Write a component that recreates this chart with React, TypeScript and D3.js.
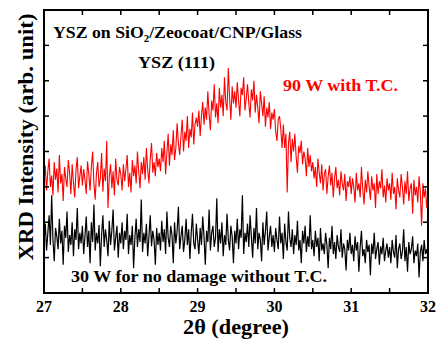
import React from 'react'
import * as d3 from 'd3'

// 2theta range of the scan, points are evenly spaced over it
const thetaStart = 27
const thetaEnd = 32

// 90 W with T.C. (arb. counts)
const redCounts = [
  158, 180, 145, 172, 190, 150, 166, 138, 185, 160, 176, 142, 195, 155, 168, 130, 178, 162, 150, 188, 170, 140, 182, 157, 135, 174, 192, 148, 165, 180,
  152, 175, 160, 140, 186, 168, 145, 178, 200, 155, 132, 170, 185, 150, 162, 198, 143, 176, 158, 215, 120, 165, 182, 148, 172, 138, 190, 160, 152, 178,
  168, 145, 182, 158, 175, 195, 150, 170, 142, 188, 165, 180, 155, 200, 172, 148, 185, 168, 192, 160, 205, 175, 155, 190, 212, 170, 185, 165, 198, 178,
  190, 172, 205, 185, 215, 168, 198, 225, 180, 210, 195, 230, 188, 205, 240, 212, 195, 222, 245, 200, 228, 215, 250, 205, 232, 220, 255, 210, 238, 248,
  235, 258, 222, 250, 270, 238, 262, 245, 285, 252, 230, 272, 258, 295, 248, 268, 240, 290, 262, 280, 250, 305, 270, 258, 318, 275, 245, 292, 268, 285,
  262, 298, 272, 250, 290, 280, 305, 258, 275, 295, 268, 248, 288, 272, 300, 255, 280, 262, 240, 285, 268, 250, 278, 235, 262, 248, 270, 232, 255, 245,
  260, 228, 215, 245, 250, 232, 205, 238, 205, 225, 142, 212, 228, 185, 218, 200, 225, 192, 170, 208, 198, 215, 182, 200, 190, 165, 205, 178, 195, 172,
  185, 162, 178, 150, 190, 170, 155, 182, 145, 168, 175, 140, 165, 180, 152, 170, 135, 162, 178, 148, 160, 138, 172, 155, 145, 168, 130, 158, 150, 165,
  140, 162, 150, 128, 170, 145, 155, 135, 178, 148, 125, 160, 142, 172, 150, 132, 165, 145, 155, 120, 168, 140, 158, 148, 175, 135, 152, 128, 162, 145,
  155, 132, 170, 140, 150, 118, 162, 145, 135, 168, 150, 125, 158, 140, 172, 130, 148, 155, 112, 160, 138, 150, 128, 165, 142, 95, 155, 135, 148, 120,
  140
]

// 30 W for no damage without T.C.
const blackCounts = [
  72, 98, 60, 85, 110, 68, 138, 75, 45, 92, 80, 62, 105, 70, 88, 40, 95, 78, 115, 58, 82, 68, 100, 52, 90, 75, 120, 62, 85, 70,
  95, 55, 80, 108, 65, 88, 42, 100, 72, 125, 60, 85, 70, 96, 38, 82, 110, 65, 90, 75, 52, 102, 68, 88, 118, 60, 78, 95, 50, 85,
  70, 100, 62, 88, 75, 112, 55, 82, 68, 95, 35, 78, 105, 65, 90, 72, 132, 58, 85, 70, 98, 52, 80, 110, 66, 88, 75, 40, 92, 68,
  85, 60, 102, 72, 90, 55, 115, 78, 65, 95, 82, 42, 100, 70, 88, 122, 62, 80, 95, 58, 75, 105, 68, 90, 48, 85, 112, 70, 62, 98,
  75, 55, 92, 68, 108, 80, 40, 88, 72, 118, 60, 85, 95, 65, 78, 134, 58, 90, 70, 100, 52, 82, 68, 112, 75, 60, 95, 80, 42, 88,
  70, 105, 62, 90, 78, 138, 55, 85, 72, 98, 65, 110, 80, 50, 92, 70, 120, 62, 85, 75, 45, 100, 68, 88, 115, 60, 80, 95, 65, 82,
  58, 92, 75, 62, 108, 70, 85, 48, 98, 72, 60, 115, 78, 65, 90, 55, 82, 68, 102, 60, 75, 42, 88, 70, 95, 58, 80, 65, 110, 62,
  75, 52, 88, 65, 78, 45, 92, 60, 70, 55, 85, 68, 35, 78, 62, 95, 55, 72, 48, 82, 65, 58, 90, 50, 70, 62, 32, 75, 60, 85,
  55, 68, 45, 80, 60, 72, 30, 65, 88, 52, 62, 42, 75, 58, 68, 25, 70, 55, 85, 48, 62, 72, 40, 66, 55, 78, 45, 60, 70, 50,
  65, 42, 75, 58, 50, 82, 35, 62, 70, 48, 58, 90, 45, 65, 30, 72, 55, 62, 80, 42, 60, 52, 70, 22, 58, 68, 45, 75, 55, 62,
  50
]

const xTicks = [27, 28, 29, 30, 31, 32]
const xMinorTicks = [27.5, 28.5, 29.5, 30.5, 31.5]
const yTicks = [50, 100, 150, 200, 250, 300, 350]

const left = 44
const right = 428
const top = 10
const bottom = 293
const font = '"Liberation Serif", "Times New Roman", serif'

function App() {
  const x = d3.scaleLinear().domain([thetaStart, thetaEnd]).range([left, right])
  const y = d3.scaleLinear().domain([0, 400]).range([bottom, top])

  const toPoints = (counts: number[]) =>
    counts.map((c, i) => [thetaStart + (i * (thetaEnd - thetaStart)) / (counts.length - 1), c] as [number, number])

  const line = d3
    .line<[number, number]>()
    .x(d => x(d[0]))
    .y(d => y(d[1]))

  const tick = 5

  return (
    <svg width={437} height={340} style={{position: 'absolute', left: 0, top: 0}}>
      <rect width={437} height={340} fill="#fff" />
      <path d={line(toPoints(blackCounts)) || ''} fill="none" stroke="#000" strokeWidth={1.2} />
      <path d={line(toPoints(redCounts)) || ''} fill="none" stroke="#ff0000" strokeWidth={1.1} />

      <rect x={left} y={top} width={right - left} height={bottom - top} fill="none" stroke="#000" strokeWidth={2} />

      {[...xTicks, ...xMinorTicks].map(t => (
        <g key={'x' + t}>
          <line x1={x(t)} x2={x(t)} y1={bottom} y2={bottom - tick} stroke="#000" strokeWidth={1.5} />
          <line x1={x(t)} x2={x(t)} y1={top} y2={top + tick} stroke="#000" strokeWidth={1.5} />
        </g>
      ))}
      {yTicks.map(t => (
        <g key={'y' + t}>
          <line x1={left} x2={left + tick} y1={y(t)} y2={y(t)} stroke="#000" strokeWidth={1.5} />
          <line x1={right} x2={right - tick} y1={y(t)} y2={y(t)} stroke="#000" strokeWidth={1.5} />
        </g>
      ))}

      {xTicks.map(t => (
        <text key={'xl' + t} x={x(t)} y={312} textAnchor="middle" fontFamily={font} fontWeight="bold" fontSize={16}>
          {t}
        </text>
      ))}

      <text
        x={236}
        y={334}
        textAnchor="middle"
        fontFamily={font}
        fontWeight="bold"
        fontSize={22}
        textLength={106}
        lengthAdjust="spacingAndGlyphs"
      >
        2θ (degree)
      </text>
      <text
        transform="translate(33,137) rotate(-90)"
        textAnchor="middle"
        fontFamily={font}
        fontWeight="bold"
        fontSize={22}
        textLength={247}
        lengthAdjust="spacingAndGlyphs"
      >
        XRD Intensity (arb. unit)
      </text>

      <text x={53} y={38} fontFamily={font} fontWeight="bold" fontSize={16.5} textLength={249} lengthAdjust="spacingAndGlyphs">
        YSZ on SiO<tspan fontSize={10} dy={4}>2</tspan>
        <tspan dy={-4}>/Zeocoat/CNP/Glass</tspan>
      </text>
      <text x={138} y={68} fontFamily={font} fontWeight="bold" fontSize={16.5} textLength={77} lengthAdjust="spacingAndGlyphs">
        YSZ (111)
      </text>
      <text
        x={283}
        y={91}
        fontFamily={font}
        fontWeight="bold"
        fontSize={16.5}
        fill="#ff0000"
        textLength={115}
        lengthAdjust="spacingAndGlyphs"
      >
        90 W with T.C.
      </text>
      <text x={71} y={282} fontFamily={font} fontWeight="bold" fontSize={16.5} textLength={256} lengthAdjust="spacingAndGlyphs">
        30 W for no damage without T.C.
      </text>
    </svg>
  )
}

export default App
